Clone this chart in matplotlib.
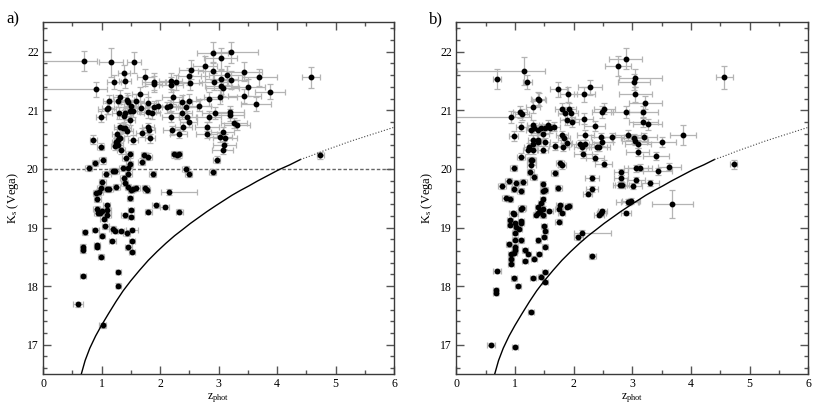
import matplotlib
matplotlib.use("Agg")
import matplotlib.pyplot as plt
from matplotlib.ticker import MultipleLocator

plt.rcParams['font.family'] = ['Liberation Serif', 'DejaVu Serif']
plt.rcParams['mathtext.fontset'] = 'custom'
plt.rcParams['mathtext.rm'] = 'Liberation Serif'
plt.rcParams['mathtext.it'] = 'Liberation Serif:italic'

# ---------------- panel a data ----------------
z_a = [0.70, 1.16, 1.56, 0.90, 1.22, 1.38, 1.40, 1.31, 1.29, 1.12, 1.09, 1.11, 0.99, 0.86, 0.99, 0.89, 0.78, 1.02, 1.08, 1.01,
       0.99, 0.91, 0.96, 0.93, 0.92, 1.01, 1.09, 1.10, 0.94, 0.97, 1.04, 1.10, 1.12, 1.09, 1.06, 0.89, 0.71, 1.01, 0.92, 0.93,
       0.99, 0.68, 0.68, 0.68, 0.60, 1.02, 1.29, 1.29, 1.18, 1.19, 1.23, 1.33, 1.43, 1.46, 1.52, 1.52, 1.52, 1.51, 1.50, 1.49,
       1.40, 1.50, 1.53, 1.59, 1.46, 1.25, 1.23, 1.20, 1.38, 1.40, 1.36, 1.46, 1.46, 1.48, 1.48, 1.42, 1.33, 1.29, 1.31, 1.29,
       1.23, 1.25, 1.26, 1.32, 1.30, 1.40, 1.43, 1.37, 1.54, 1.48, 1.48, 1.54, 1.50, 1.40, 1.38, 1.30, 1.43, 1.46, 1.59, 1.66,
       1.75, 1.67, 1.79, 1.79, 1.86, 1.89, 1.96, 1.90, 1.89, 1.69, 1.79, 1.81, 1.83, 1.73, 1.69, 1.80, 1.88, 1.75, 1.77, 1.80,
       1.93, 2.08, 2.16, 2.33, 2.24, 2.29, 2.32, 2.44, 2.49, 2.90, 2.97, 2.18, 2.19, 2.28, 2.22, 2.12, 2.17, 2.18, 2.20, 2.32,
       2.37, 2.37, 2.45, 2.40, 2.47, 2.49, 2.50, 2.50, 2.53, 2.51, 2.67, 2.77, 2.90, 2.90, 2.92, 2.84, 2.84, 2.80, 2.80, 2.94,
       3.04, 3.22, 3.05, 3.05, 3.07, 3.14, 3.21, 3.03, 3.19, 3.19, 3.07, 3.03, 3.11, 3.10, 3.07, 3.26, 3.32, 3.44, 3.44, 3.51,
       3.70, 3.64, 3.88, 4.58, 4.74]
k_a = [21.84, 21.82, 21.82, 21.36, 21.48, 21.63, 21.50, 21.23, 21.16, 21.16, 21.03, 21.04, 20.89, 20.50, 20.38, 20.10, 20.02, 20.15, 19.92, 19.78,
       19.68, 19.59, 19.60, 19.48, 19.32, 19.29, 19.38, 19.30, 19.24, 19.25, 19.15, 19.21, 19.65, 19.66, 19.02, 18.96, 18.92, 18.86, 18.70, 18.67,
       18.50, 18.67, 18.61, 18.17, 17.69, 17.33, 18.24, 18.01, 18.77, 18.98, 18.94, 18.94, 18.90, 18.66, 18.77, 18.96, 18.58, 19.18, 19.30, 19.50,
       19.21, 19.64, 19.65, 19.68, 19.69, 19.69, 19.96, 19.97, 19.84, 19.76, 20.01, 19.92, 20.01, 20.09, 20.25, 20.19, 20.32, 20.49, 20.52, 20.40,
       20.39, 20.46, 20.60, 20.71, 20.53, 20.69, 20.64, 20.70, 20.50, 20.84, 20.99, 20.99, 21.07, 20.96, 20.90, 20.96, 21.18, 21.15, 21.16, 21.27,
       21.56, 21.04, 21.12, 20.97, 20.95, 21.06, 21.07, 21.49, 21.45, 20.62, 20.71, 20.66, 20.52, 20.23, 20.12, 20.21, 19.91, 19.68, 19.64, 19.27,
       19.38, 19.35, 19.61, 19.27, 20.25, 20.23, 20.25, 20.00, 19.91, 19.95, 20.16, 21.50, 21.44, 21.48, 21.22, 21.05, 21.07, 20.89, 20.66, 20.60,
       21.15, 20.96, 21.05, 20.72, 20.89, 20.80, 21.16, 21.58, 21.69, 21.47, 21.08, 21.76, 21.98, 21.67, 21.49, 21.19, 20.89, 20.72, 20.60, 20.95,
       21.89, 21.99, 21.54, 21.41, 21.38, 21.60, 21.52, 21.23, 20.97, 20.92, 20.63, 20.54, 20.52, 20.41, 20.33, 20.78, 20.75, 21.66, 21.24, 21.39,
       21.56, 21.11, 21.32, 21.56, 20.23]
zlo_a = [0.70, 0.20, 0.12, 0.90, 0.12, 0.10, 0.10, 0.12, 0.12, 0.10, 0.15, 0.10, 0.08, 0.06, 0.06, 0.05, 0.06, 0.06, 0.08, 0.06,
         0.06, 0.06, 0.06, 0.06, 0.06, 0.06, 0.06, 0.06, 0.06, 0.06, 0.06, 0.06, 0.08, 0.06, 0.06, 0.06, 0.05, 0.05, 0.05, 0.05,
         0.05, 0.04, 0.04, 0.05, 0.08, 0.06, 0.05, 0.05, 0.06, 0.06, 0.06, 0.06, 0.06, 0.06, 0.05, 0.10, 0.05, 0.05, 0.05, 0.05,
         0.06, 0.05, 0.05, 0.06, 0.05, 0.06, 0.07, 0.07, 0.06, 0.06, 0.06, 0.06, 0.06, 0.06, 0.06, 0.07, 0.07, 0.08, 0.08, 0.07,
         0.07, 0.07, 0.08, 0.10, 0.08, 0.10, 0.10, 0.10, 0.08, 0.10, 0.12, 0.10, 0.12, 0.12, 0.12, 0.12, 0.12, 0.12, 0.14, 0.14,
         0.15, 0.12, 0.14, 0.14, 0.14, 0.15, 0.15, 0.20, 0.15, 0.10, 0.10, 0.10, 0.08, 0.06, 0.06, 0.06, 0.06, 0.06, 0.06, 0.06,
         0.06, 0.08, 0.15, 0.06, 0.06, 0.06, 0.06, 0.06, 0.06, 0.06, 0.06, 0.20, 0.20, 0.20, 0.18, 0.18, 0.18, 0.15, 0.15, 0.15,
         0.18, 0.18, 0.18, 0.15, 0.15, 0.15, 0.18, 0.20, 0.20, 0.20, 0.20, 0.20, 0.26, 0.25, 0.25, 0.22, 0.20, 0.20, 0.18, 0.22,
         0.28, 0.30, 0.28, 0.28, 0.28, 0.30, 0.30, 0.28, 0.25, 0.25, 0.20, 0.20, 0.20, 0.20, 0.18, 0.22, 0.22, 0.30, 0.28, 0.28,
         0.30, 0.25, 0.25, 0.15, 0.06]
zhi_a = [0.22, 0.20, 0.12, 0.20, 0.12, 0.10, 0.10, 0.12, 0.12, 0.10, 0.15, 0.10, 0.08, 0.06, 0.06, 0.05, 0.06, 0.06, 0.08, 0.06,
         0.06, 0.06, 0.06, 0.06, 0.06, 0.06, 0.06, 0.06, 0.06, 0.06, 0.06, 0.06, 0.08, 0.06, 0.06, 0.06, 0.05, 0.05, 0.05, 0.05,
         0.05, 0.04, 0.04, 0.05, 0.08, 0.06, 0.05, 0.05, 0.06, 0.06, 0.06, 0.06, 0.06, 0.06, 0.05, 0.10, 0.05, 0.05, 0.05, 0.05,
         0.06, 0.05, 0.05, 0.06, 0.05, 0.06, 0.07, 0.07, 0.06, 0.06, 0.06, 0.06, 0.06, 0.06, 0.06, 0.07, 0.07, 0.08, 0.08, 0.07,
         0.07, 0.07, 0.08, 0.10, 0.08, 0.10, 0.10, 0.10, 0.08, 0.10, 0.12, 0.10, 0.12, 0.12, 0.12, 0.12, 0.12, 0.12, 0.14, 0.14,
         0.15, 0.12, 0.14, 0.14, 0.14, 0.15, 0.15, 0.20, 0.15, 0.10, 0.10, 0.10, 0.08, 0.06, 0.06, 0.06, 0.06, 0.06, 0.06, 0.06,
         0.06, 0.08, 0.48, 0.06, 0.06, 0.06, 0.06, 0.06, 0.06, 0.06, 0.06, 0.20, 0.20, 0.20, 0.18, 0.18, 0.18, 0.15, 0.15, 0.15,
         0.18, 0.18, 0.18, 0.15, 0.15, 0.15, 0.18, 0.20, 0.20, 0.20, 0.20, 0.20, 0.26, 0.25, 0.25, 0.22, 0.20, 0.20, 0.18, 0.22,
         0.28, 0.45, 0.28, 0.28, 0.28, 0.30, 0.30, 0.28, 0.25, 0.25, 0.20, 0.20, 0.20, 0.20, 0.18, 0.22, 0.22, 0.30, 0.28, 0.28,
         0.30, 0.25, 0.25, 0.15, 0.06]
kerr_a = [0.17, 0.25, 0.18, 0.13, 0.12, 0.14, 0.12, 0.12, 0.10, 0.10, 0.10, 0.10, 0.09, 0.07, 0.06, 0.05, 0.05, 0.06, 0.05, 0.05,
          0.05, 0.05, 0.05, 0.05, 0.04, 0.04, 0.04, 0.04, 0.04, 0.04, 0.04, 0.04, 0.05, 0.05, 0.04, 0.04, 0.04, 0.04, 0.04, 0.04,
          0.04, 0.04, 0.04, 0.04, 0.04, 0.04, 0.04, 0.04, 0.04, 0.04, 0.04, 0.04, 0.04, 0.04, 0.04, 0.04, 0.04, 0.04, 0.04, 0.04,
          0.04, 0.05, 0.05, 0.05, 0.05, 0.05, 0.05, 0.05, 0.05, 0.05, 0.05, 0.05, 0.05, 0.05, 0.06, 0.06, 0.06, 0.07, 0.07, 0.06,
          0.06, 0.07, 0.08, 0.08, 0.07, 0.08, 0.08, 0.08, 0.07, 0.09, 0.10, 0.10, 0.10, 0.10, 0.10, 0.10, 0.11, 0.11, 0.11, 0.12,
          0.15, 0.10, 0.11, 0.10, 0.10, 0.10, 0.10, 0.14, 0.13, 0.08, 0.08, 0.08, 0.07, 0.06, 0.06, 0.06, 0.05, 0.05, 0.05, 0.04,
          0.04, 0.04, 0.05, 0.04, 0.06, 0.06, 0.06, 0.05, 0.05, 0.05, 0.06, 0.13, 0.13, 0.13, 0.12, 0.10, 0.10, 0.09, 0.08, 0.08,
          0.11, 0.10, 0.10, 0.08, 0.09, 0.09, 0.11, 0.15, 0.16, 0.13, 0.10, 0.17, 0.18, 0.16, 0.14, 0.12, 0.09, 0.08, 0.08, 0.10,
          0.18, 0.18, 0.15, 0.14, 0.14, 0.16, 0.15, 0.12, 0.10, 0.10, 0.08, 0.08, 0.08, 0.07, 0.07, 0.09, 0.09, 0.16, 0.12, 0.14,
          0.15, 0.12, 0.13, 0.18, 0.06]

# ---------------- panel b data ----------------
z_b = [0.70, 1.15, 1.21, 0.93, 0.98, 1.10, 0.98, 0.78, 0.89, 0.84, 0.91, 0.99, 1.01, 1.10, 1.14, 1.11, 1.12, 0.96, 0.99, 0.91,
       0.91, 1.00, 1.02, 1.07, 1.10, 1.10, 1.00, 1.00, 0.89, 1.00, 1.00, 0.98, 0.93, 0.93, 0.93, 1.11, 1.17, 1.23, 1.17, 1.32,
       1.41, 1.40, 0.70, 0.67, 0.67, 0.99, 1.05, 1.30, 1.44, 1.51, 1.51, 1.28, 0.59, 1.00, 1.51, 1.52, 1.49, 1.49, 1.48, 1.44,
       1.47, 1.47, 1.48, 1.47, 1.51, 1.43, 1.39, 1.35, 1.39, 1.58, 1.75, 1.75, 1.80, 1.76, 1.88, 1.92, 1.74, 1.68, 1.77, 1.80,
       1.32, 1.26, 1.27, 1.28, 1.29, 1.24, 1.22, 1.30, 1.30, 1.30, 1.28, 1.31, 1.33, 1.30, 1.39, 1.41, 1.09, 1.12, 1.11, 1.39,
       1.44, 1.48, 1.40, 1.40, 1.48, 1.52, 1.51, 1.56, 1.60, 1.67, 1.68, 1.80, 1.84, 1.82, 1.88, 1.88, 1.85, 1.80, 1.92, 1.95,
       1.97, 1.74, 1.91, 2.18, 2.28, 2.18, 2.20, 2.11, 2.15, 2.16, 2.19, 2.36, 2.39, 2.44, 2.36, 2.51, 2.31, 2.31, 2.24, 2.47,
       2.49, 2.49, 2.52, 2.66, 2.08, 2.15, 2.32, 2.43, 2.47, 2.49, 2.76, 2.89, 3.05, 3.03, 3.05, 2.89, 2.92, 3.03, 3.05, 3.10,
       3.09, 3.19, 3.22, 3.19, 3.26, 3.20, 2.81, 2.81, 2.79, 2.83, 3.06, 3.13, 3.06, 3.02, 3.30, 2.92, 2.95, 2.98, 2.89, 3.41,
       3.43, 3.50, 3.63, 3.68, 3.86, 4.57, 4.73]
k_b = [21.54, 21.67, 21.48, 20.89, 20.56, 20.21, 20.01, 19.71, 19.80, 19.51, 19.48, 19.65, 19.76, 19.63, 19.78, 19.31, 19.34, 19.24, 19.23, 19.12,
       19.05, 19.07, 19.01, 18.98, 19.11, 19.08, 18.91, 18.79, 18.71, 18.67, 18.61, 18.57, 18.54, 18.47, 18.38, 18.78, 18.61, 18.55, 18.43, 18.47,
       18.55, 18.78, 18.26, 17.93, 17.88, 18.13, 18.00, 18.14, 18.16, 18.24, 18.07, 17.56, 17.00, 16.96, 18.67, 18.94, 18.84, 19.02, 19.21, 19.41,
       19.48, 19.32, 19.62, 19.74, 19.64, 19.28, 19.25, 19.22, 19.35, 19.28, 19.32, 19.10, 19.25, 19.38, 19.35, 19.37, 19.67, 19.93, 20.10, 20.06,
       19.86, 19.95, 20.15, 20.06, 20.15, 20.38, 20.32, 20.32, 20.43, 20.50, 20.66, 20.75, 20.70, 21.06, 21.20, 21.18, 20.97, 20.93, 20.72, 20.66,
       20.69, 20.59, 20.46, 20.50, 20.33, 20.46, 20.69, 20.75, 20.69, 20.72, 20.39, 20.57, 20.52, 20.38, 20.45, 20.84, 20.95, 21.03, 21.03, 20.96,
       20.80, 21.36, 21.27, 21.27, 21.39, 20.86, 20.58, 20.42, 20.38, 20.25, 20.42, 20.73, 20.38, 20.37, 20.19, 20.09, 19.85, 19.66, 19.58, 20.54,
       20.46, 20.97, 21.03, 20.54, 18.83, 18.91, 18.51, 19.22, 19.24, 19.28, 21.76, 21.88, 21.55, 21.48, 21.27, 20.97, 20.58, 20.52, 20.48, 20.42,
       20.29, 20.97, 21.13, 20.80, 20.76, 20.54, 19.95, 19.85, 19.73, 19.73, 20.01, 20.02, 19.81, 19.71, 19.76, 19.44, 19.44, 19.45, 19.25, 20.22,
       19.96, 20.46, 20.04, 19.40, 20.58, 21.56, 20.08]
zlo_b = [0.07, 1.13, 0.08, 0.93, 0.08, 0.07, 0.06, 0.07, 0.06, 0.06, 0.06, 0.06, 0.06, 0.06, 0.06, 0.06, 0.06, 0.06, 0.06, 0.05,
         0.05, 0.05, 0.05, 0.05, 0.05, 0.05, 0.05, 0.05, 0.05, 0.05, 0.05, 0.05, 0.05, 0.05, 0.05, 0.05, 0.05, 0.05, 0.05, 0.05,
         0.05, 0.05, 0.07, 0.04, 0.04, 0.05, 0.05, 0.05, 0.05, 0.05, 0.05, 0.05, 0.07, 0.05, 0.05, 0.05, 0.05, 0.05, 0.05, 0.05,
         0.05, 0.05, 0.05, 0.05, 0.05, 0.05, 0.05, 0.05, 0.05, 0.06, 0.06, 0.06, 0.06, 0.06, 0.06, 0.06, 0.06, 0.06, 0.07, 0.07,
         0.06, 0.06, 0.07, 0.07, 0.07, 0.08, 0.08, 0.08, 0.08, 0.08, 0.10, 0.10, 0.10, 0.12, 0.12, 0.12, 0.12, 0.12, 0.10, 0.10,
         0.10, 0.10, 0.08, 0.08, 0.08, 0.08, 0.10, 0.10, 0.10, 0.10, 0.10, 0.10, 0.10, 0.10, 0.10, 0.12, 0.12, 0.12, 0.12, 0.12,
         0.12, 0.15, 0.15, 0.18, 0.20, 0.15, 0.15, 0.15, 0.15, 0.15, 0.15, 0.18, 0.18, 0.18, 0.15, 0.15, 0.12, 0.10, 0.08, 0.18,
         0.18, 0.18, 0.18, 0.20, 0.08, 0.15, 0.06, 0.08, 0.08, 0.08, 0.22, 0.28, 0.28, 0.28, 0.28, 0.25, 0.22, 0.22, 0.22, 0.22,
         0.20, 0.25, 0.28, 0.25, 0.25, 0.22, 0.12, 0.12, 0.12, 0.12, 0.20, 0.20, 0.15, 0.15, 0.15, 0.20, 0.15, 0.15, 0.08, 0.22,
         0.25, 0.25, 0.20, 0.35, 0.22, 0.15, 0.06]
zhi_b = [0.07, 0.37, 0.08, 0.35, 0.08, 0.07, 0.06, 0.07, 0.06, 0.06, 0.06, 0.06, 0.06, 0.06, 0.06, 0.06, 0.06, 0.06, 0.06, 0.05,
         0.05, 0.05, 0.05, 0.05, 0.05, 0.05, 0.05, 0.05, 0.05, 0.05, 0.05, 0.05, 0.05, 0.05, 0.05, 0.05, 0.05, 0.05, 0.05, 0.05,
         0.05, 0.05, 0.07, 0.04, 0.04, 0.05, 0.05, 0.05, 0.05, 0.05, 0.05, 0.05, 0.07, 0.05, 0.05, 0.05, 0.05, 0.05, 0.05, 0.05,
         0.05, 0.05, 0.05, 0.05, 0.05, 0.05, 0.05, 0.05, 0.05, 0.06, 0.06, 0.06, 0.06, 0.06, 0.06, 0.06, 0.06, 0.06, 0.07, 0.07,
         0.06, 0.06, 0.07, 0.07, 0.07, 0.08, 0.08, 0.08, 0.08, 0.08, 0.10, 0.10, 0.10, 0.12, 0.12, 0.12, 0.12, 0.12, 0.10, 0.10,
         0.10, 0.10, 0.08, 0.08, 0.08, 0.08, 0.10, 0.10, 0.10, 0.10, 0.10, 0.10, 0.10, 0.10, 0.10, 0.12, 0.12, 0.12, 0.12, 0.12,
         0.12, 0.15, 0.15, 0.18, 0.20, 0.15, 0.15, 0.15, 0.15, 0.15, 0.15, 0.18, 0.18, 0.18, 0.15, 0.15, 0.12, 0.10, 0.08, 0.18,
         0.18, 0.18, 0.18, 0.20, 0.08, 0.48, 0.06, 0.08, 0.08, 0.08, 0.22, 0.28, 0.45, 0.28, 0.28, 0.25, 0.22, 0.22, 0.22, 0.22,
         0.20, 0.25, 0.28, 0.25, 0.25, 0.22, 0.12, 0.12, 0.12, 0.12, 0.20, 0.20, 0.15, 0.15, 0.15, 0.20, 0.15, 0.15, 0.08, 0.22,
         0.25, 0.25, 0.20, 0.35, 0.22, 0.15, 0.06]
kerr_b = [0.17, 0.24, 0.12, 0.10, 0.08, 0.06, 0.05, 0.05, 0.05, 0.05, 0.05, 0.05, 0.05, 0.05, 0.05, 0.04, 0.04, 0.04, 0.04, 0.04,
          0.04, 0.04, 0.04, 0.04, 0.04, 0.04, 0.04, 0.04, 0.04, 0.04, 0.04, 0.04, 0.04, 0.04, 0.04, 0.04, 0.04, 0.04, 0.04, 0.04,
          0.04, 0.04, 0.04, 0.04, 0.04, 0.04, 0.04, 0.04, 0.04, 0.04, 0.04, 0.04, 0.03, 0.03, 0.04, 0.04, 0.04, 0.04, 0.04, 0.04,
          0.04, 0.04, 0.05, 0.05, 0.05, 0.04, 0.04, 0.04, 0.04, 0.04, 0.04, 0.04, 0.04, 0.04, 0.04, 0.04, 0.05, 0.05, 0.06, 0.06,
          0.05, 0.05, 0.06, 0.06, 0.06, 0.07, 0.06, 0.06, 0.07, 0.07, 0.08, 0.08, 0.08, 0.10, 0.11, 0.11, 0.10, 0.10, 0.08, 0.08,
          0.08, 0.08, 0.07, 0.07, 0.06, 0.07, 0.08, 0.08, 0.08, 0.08, 0.07, 0.08, 0.08, 0.07, 0.07, 0.09, 0.10, 0.10, 0.10, 0.10,
          0.09, 0.13, 0.12, 0.12, 0.13, 0.09, 0.08, 0.07, 0.07, 0.06, 0.07, 0.08, 0.07, 0.07, 0.06, 0.06, 0.05, 0.05, 0.05, 0.08,
          0.07, 0.10, 0.10, 0.08, 0.04, 0.04, 0.04, 0.04, 0.04, 0.04, 0.17, 0.18, 0.15, 0.14, 0.12, 0.10, 0.08, 0.08, 0.08, 0.07,
          0.07, 0.10, 0.11, 0.09, 0.09, 0.08, 0.05, 0.05, 0.05, 0.05, 0.06, 0.06, 0.05, 0.05, 0.05, 0.05, 0.05, 0.05, 0.04, 0.07,
          0.06, 0.08, 0.06, 0.24, 0.17, 0.19, 0.08]

# ---------------- limit curve ----------------
z_curve_solid = [0.655, 0.72, 0.80, 0.90, 1.00, 1.12, 1.25, 1.37, 1.50, 1.65, 1.80, 1.95, 2.10, 2.25, 2.38, 2.52, 2.66,
                 2.80, 2.95, 3.09, 3.23, 3.37, 3.52, 3.66, 3.85, 4.04, 4.22, 4.40]
k_curve_solid = [16.50, 16.73, 16.94, 17.15, 17.33, 17.53, 17.74, 17.92, 18.09, 18.27, 18.44, 18.59, 18.73, 18.86, 18.96, 19.07, 19.17,
                 19.27, 19.37, 19.46, 19.55, 19.63, 19.71, 19.79, 19.89, 19.99, 20.07, 20.16]
z_curve_dot = [4.40, 4.57, 4.80, 5.00, 5.25, 5.50, 5.75, 6.00]
k_curve_dot = [20.16, 20.22, 20.31, 20.38, 20.47, 20.55, 20.63, 20.71]
k_cut = 20.0

W, H = 830, 417
fig = plt.figure(figsize=(W / 100, H / 100), dpi=100)
ax_a = fig.add_axes([43 / W, 1 - 374 / H, 351 / W, (374 - 22.4) / H])
ax_b = fig.add_axes([456.3 / W, 1 - 374 / H, 352 / W, (374 - 22.4) / H])

spine_col = '#3a3a3a'
err_col = '#b4b4b4'

def style(ax):
    ax.set_xlim(0, 6)
    ax.set_ylim(16.5, 22.5)
    ax.xaxis.set_major_locator(MultipleLocator(1))
    ax.xaxis.set_minor_locator(MultipleLocator(0.5))
    ax.yaxis.set_major_locator(MultipleLocator(1))
    ax.yaxis.set_minor_locator(MultipleLocator(0.2))
    ax.tick_params(which='both', direction='in', top=True, right=True, color='#555555', labelsize=8.5, pad=3)
    ax.tick_params(which='major', length=6, width=1)
    ax.tick_params(which='minor', length=3, width=1)
    for s in ax.spines.values():
        s.set_color(spine_col)
        s.set_linewidth(1.0)
    ax.set_xlabel(r'z$_{\rm phot}$', fontsize=8.5, labelpad=1)
    ax.set_ylabel(r'K$_{\rm s}$ (Vega)', fontsize=9, labelpad=4)

def draw(ax, z, k, zlo, zhi, kerr):
    ax.errorbar(z, k, xerr=[zlo, zhi], yerr=kerr, fmt='none', ecolor=err_col,
                elinewidth=0.9, capsize=2.2, capthick=0.9, zorder=2)
    ax.plot(z, k, 'o', color='black', markersize=3.2, zorder=3)
    ax.plot(z_curve_solid, k_curve_solid, '-', color='black', lw=1.0, zorder=4)
    ax.plot(z_curve_dot, k_curve_dot, ':', color='#444444', lw=0.8, zorder=4)

style(ax_a)
style(ax_b)
ax_a.axhline(k_cut, color='#666666', lw=1.0, ls=(0, (2.5, 1.5)), zorder=1)
draw(ax_a, z_a, k_a, zlo_a, zhi_a, kerr_a)
draw(ax_b, z_b, k_b, zlo_b, zhi_b, kerr_b)

fig.text(6 / W, 1 - 23 / H, 'a)', fontsize=12)
fig.text(429 / W, 1 - 23 / H, 'b)', fontsize=12)

fig.savefig('out.png', dpi=100)
